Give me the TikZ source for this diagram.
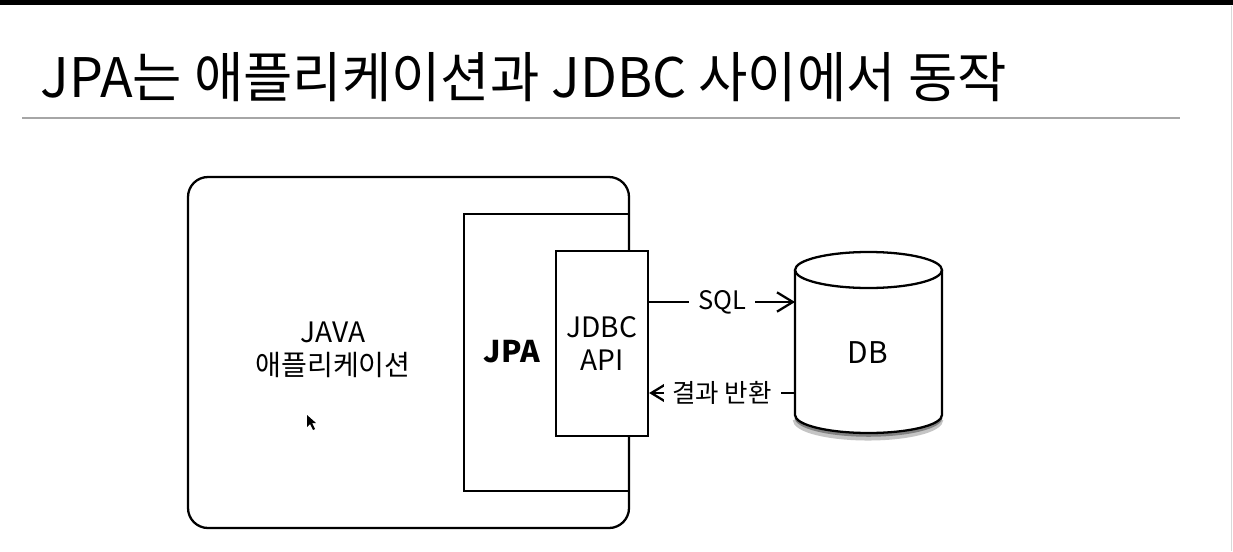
\documentclass[tikz,border=0pt]{standalone}
\usepackage{fontspec}
\setmainfont{Noto Sans CJK KR}
\usetikzlibrary{arrows.meta}

\begin{document}
\begin{tikzpicture}[x=0.02cm,y=-0.02cm,
  caixa/.style={draw,line width=1.3pt},
  texto/.style={font=\fontsize{16}{18.5}\selectfont,align=center},
  seta/.style={line width=1.3pt,-{Straight Barb[length=9pt,width=11pt,line width=1.3pt]}},
  rotulo/.style={fill=white,inner sep=5pt,font=\fontsize{14.5}{17}\selectfont}]
  % Fundo
  \useasboundingbox (0,0) rectangle (1233,551);
  \fill[white] (0,0) rectangle (1233,551);
  \fill[black] (0,0) rectangle (1233,5);
  \draw[gray!30] (1231,6) -- (1231,551);

  % Titulo
  \node[anchor=base west,inner sep=0pt,font=\fontsize{31}{36}\selectfont] (titulo) at (40,97)
    {\scalebox{0.985}[1]{JPA는 애플리케이션과 JDBC 사이에서 동작}};
  \draw[gray!70,line width=0.8pt] (22,118) -- (1180,118);

	% Aplicacao
	\draw[caixa,rounded corners=0.4cm] (188,177) rectangle (629,528);
	\node[texto] (java) at (333,350) {JAVA\\애플리케이션};

	% JPA
	\draw[caixa] (464,214) rectangle (629,491);
	\node[texto,font=\fontsize{17}{20}\selectfont\bfseries] (jpa) at (512,352) {JPA};

	% JDBC
	\node[caixa,fill=white,texto,minimum width=1.84cm,minimum height=3.7cm,inner sep=0pt]
		(jdbc) at (602,343.5) {JDBC\\API};

	% Banco
	\begin{scope}
		\draw[black!45,line width=4pt,opacity=0.5] (940,419) arc[start angle=0,end angle=180,x radius=72,y radius=18];
		\draw[black!60,line width=2pt,opacity=0.7] (941,417) arc[start angle=0,end angle=180,x radius=72.5,y radius=18];
	\end{scope}
	\draw[line width=1.3pt,fill=white] (795,270) -- (795,415)
		arc[start angle=180,end angle=0,x radius=73.5,y radius=18] -- (942,270);
	\draw[line width=1.3pt,fill=white] (868.5,270) ellipse (73.5 and 18);
	\node[texto,font=\fontsize{17}{20}\selectfont] (db) at (868,353) {DB};
	\coordinate (sqlfim) at (795,302);
	\coordinate (retorno) at (795,393);

	% Setas
	\draw[seta] (jdbc.east |- sqlfim) -- node[rotulo] (sql) {SQL} (sqlfim);
	\draw[seta] (retorno) -- node[rotulo] (resultado) {결과 반환} (jdbc.east |- retorno);

	% Cursor
	\fill[black] (307,415) -- (307,427) -- (310,424) -- (313,430) -- (315,429) -- (312,423) -- (316,423) -- cycle;
\end{tikzpicture}
\end{document}
